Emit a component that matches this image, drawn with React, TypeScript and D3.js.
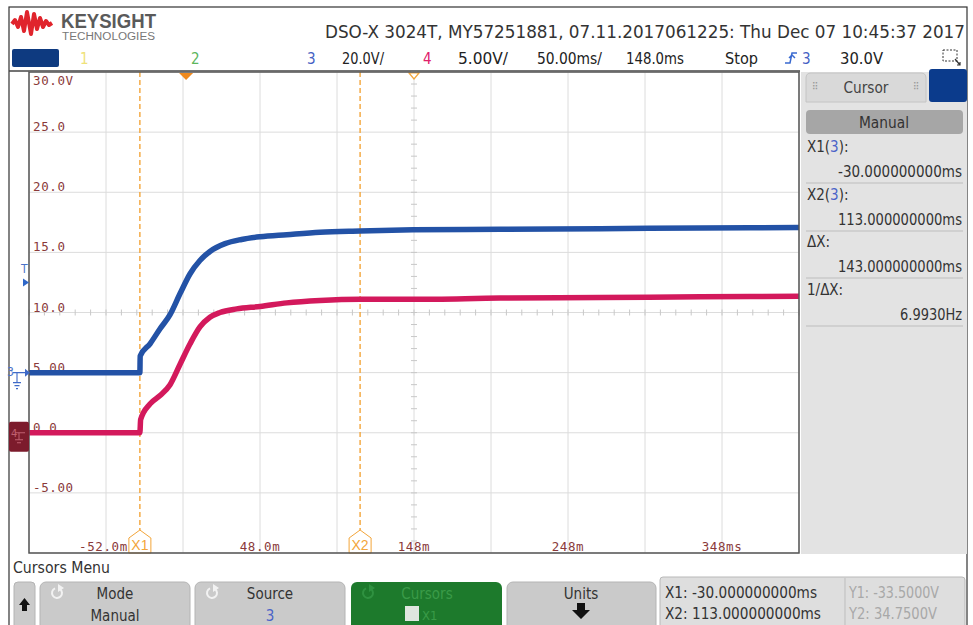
import React from 'react';
import * as d3 from 'd3';

const W = 973;
const H = 625;

// horizontal: 50.00 ms/div, delay 148.0 ms, 10 divisions
const timeDomain = [-102, 398];
// channel 4 (red) 5.00 V/div, channel 3 (blue) 20.0 V/div, 8 divisions
const ch4Domain = [-10, 30];
const ch3Domain = [-60, 100];

const yTickValues = [30, 25, 20, 15, 10, 5, 0, -5];
const yTickLabels = ['30.0V', '25.0', '20.0', '15.0', '10.0', '5.00', '0.0', '-5.00'];
const xTickValues = [-52, 48, 148, 248, 348];
const xTickLabels = ['-52.0m', '48.0m', '148m', '248m', '348ms'];

// channel 3 trace (ms, V)
const ch3Time = [-102, -30, -29.8, -23.4, -16.9, -10.4, -3.9, 2.6, 9.0, 15.5, 25.3, 36, 48, 65.4, 87.0, 113, 147.4, 204, 269, 334, 398];
const ch3Volts = [0, 0, 5.5, 9.6, 14.6, 19.3, 26.3, 32.9, 37.3, 40.3, 42.9, 44.3, 45.2, 45.9, 46.7, 47.1, 47.5, 47.7, 47.9, 48.1, 48.3];

// channel 4 trace (ms, V)
const ch4Time = [-102, -30, -29.5, -23.4, -16.9, -10.4, -3.9, 2.6, 9.0, 15.5, 22.0, 32.9, 48.0, 65.4, 87.0, 113, 147.4, 204, 269, 334, 398];
const ch4Volts = [0, 0, 1.1, 2.4, 3.1, 4.0, 5.7, 7.4, 8.8, 9.6, 10.0, 10.3, 10.5, 10.8, 11.0, 11.1, 11.1, 11.2, 11.25, 11.3, 11.35];

const cursorTimes = [-30, 113];
const cursorNames = ['X1', 'X2'];
const triggerTime = 0;
const delayTime = 148;
const triggerLevel = 30; // on channel 3
const ch3Ground = 0;
const ch4Ground = 0;

const panelRows = [
  { label: 'X1(', src: '3', value: '-30.000000000ms' },
  { label: 'X2(', src: '3', value: '113.000000000ms' },
  { label: 'ΔX:', src: '', value: '143.000000000ms' },
  { label: '1/ΔX:', src: '', value: '6.9930Hz' },
];

const BLUE = '#2352a6';
const RED = '#d3195c';
const ORANGE = '#f3a53a';
const LABEL = '#8a3a3a';
const UI = "'Liberation Sans Narrow', 'Arial Narrow', 'DejaVu Sans Condensed', 'Liberation Sans', sans-serif";
const MONO = "'DejaVu Sans Mono', 'Liberation Mono', monospace";

const plot = { left: 29, right: 799, top: 72, bottom: 553 };

function Txt(props: any) {
  const { len, children, ...rest } = props;
  return (
    <text fontFamily={UI} {...rest} textLength={len} lengthAdjust={len ? 'spacingAndGlyphs' : undefined}>
      {children}
    </text>
  );
}

function Refresh({ x, y, color }: { x: number; y: number; color: string }) {
  const arc = d3.arc()({ innerRadius: 4, outerRadius: 6, startAngle: 0.6, endAngle: 2 * Math.PI - 0.4 }) as string;
  return (
    <g transform={`translate(${x},${y})`}>
      <path d={arc} fill={color} />
      <path d="M1,-9 L7,-5 L1,-1 Z" fill={color} />
    </g>
  );
}

function Button({ x, w, fill }: any) {
  return <rect x={x} y={582} width={w} height={50} rx={6} fill={fill} stroke="#b4b4b4" />;
}

export default function App() {
  const x = d3.scaleLinear().domain(timeDomain).range([plot.left, plot.right]);
  const y4 = d3.scaleLinear().domain(ch4Domain).range([plot.bottom, plot.top]);
  const y3 = d3.scaleLinear().domain(ch3Domain).range([plot.bottom, plot.top]);

  const line3 = d3.line<number>().x((_, i) => x(ch3Time[i])).y((v) => y3(v)).curve(d3.curveMonotoneX);
  const line4 = d3.line<number>().x((_, i) => x(ch4Time[i])).y((v) => y4(v)).curve(d3.curveMonotoneX);

  const vGrid = d3.range(timeDomain[0], timeDomain[1] + 1, 50);
  const hGrid = d3.range(ch4Domain[0], ch4Domain[1] + 1, 5);
  const midT = (timeDomain[0] + timeDomain[1]) / 2;
  const midV = (ch4Domain[0] + ch4Domain[1]) / 2;
  const minorT = d3.range(timeDomain[0], timeDomain[1] + 0.1, 10);
  const minorV = d3.range(ch4Domain[0], ch4Domain[1] + 0.1, 1);

  const g3 = y3(ch3Ground);
  const g4 = y4(ch4Ground);
  const trig = y3(triggerLevel);

  return (
    <svg width={W} height={H} style={{ position: 'absolute', left: 0, top: 0, background: '#fff' }}>
      {/* outer frame */}
      <rect x={9} y={7} width={958} height={630} fill="#fff" stroke="#333" strokeWidth={1.2} />

      {/* logo */}
      <path
        d="M12,24 L15,20 L18,27 L21,17 L24,31 L27,12 L31,34 L34,14 L37,29 L40,18 L43,27 L46,21 L49,25 L52,23"
        fill="none" stroke="#e0242c" strokeWidth={4} strokeLinejoin="round"
      />
      <Txt x={61} y={28} fontSize={20} fontWeight="bold" fill="#5a5a5a" len={95} fontFamily="'Liberation Sans', sans-serif">KEYSIGHT</Txt>
      <Txt x={62} y={40} fontSize={10} fill="#777" len={93} fontFamily="'Liberation Sans', sans-serif">TECHNOLOGIES</Txt>
      <Txt x={325} y={38} fontSize={17} fill="#333" len={640}>DSO-X 3024T, MY57251881, 07.11.2017061225: Thu Dec 07 10:45:37 2017</Txt>

      {/* status row */}
      <rect x={12} y={49} width={47} height={18} rx={2} fill="#0e3a80" />
      <Txt x={80} y={64} fontSize={15} fill="#efe27a">1</Txt>
      <Txt x={191} y={64} fontSize={15} fill="#5db65d">2</Txt>
      <Txt x={307} y={64} fontSize={15} fill="#4461c4">3</Txt>
      <Txt x={342} y={64} fontSize={15} fill="#222" len={42}>20.0V/</Txt>
      <Txt x={423} y={64} fontSize={15} fill="#e0206a">4</Txt>
      <Txt x={458} y={64} fontSize={15} fill="#222" len={50}>5.00V/</Txt>
      <Txt x={537} y={64} fontSize={15} fill="#222" len={65}>50.00ms/</Txt>
      <Txt x={626} y={64} fontSize={15} fill="#222" len={58}>148.0ms</Txt>
      <Txt x={725} y={64} fontSize={15} fill="#222" len={33}>Stop</Txt>
      <path d="M785,63 L790,63 L792,53 L797,53 M789,58 L792,55 L795,58" fill="none" stroke="#3a6ad0" strokeWidth={1.5} />
      <Txt x={802} y={64} fontSize={15} fill="#4461c4">3</Txt>
      <Txt x={840} y={64} fontSize={15} fill="#222" len={43}>30.0V</Txt>
      <rect x={943} y={50} width={14} height={11} fill="none" stroke="#333" strokeDasharray="2,1.5" />
      <path d="M955,59 L960,65 M957,65 L960,65 L960,62" fill="none" stroke="#333" strokeWidth={1.2} />

      {/* plot area */}
      <line x1={9} x2={800} y1={71} y2={71} stroke="#444" strokeWidth={1.5} />
      <g>
        {vGrid.map((t) => (
          <line key={'v' + t} x1={x(t)} x2={x(t)} y1={plot.top} y2={plot.bottom} stroke="#dcdcdc" />
        ))}
        {hGrid.map((v) => (
          <line key={'h' + v} x1={plot.left} x2={plot.right} y1={y4(v)} y2={y4(v)} stroke="#dcdcdc" />
        ))}
        {minorT.map((t) => (
          <line key={'mt' + t} x1={x(t)} x2={x(t)} y1={y4(midV) - 3} y2={y4(midV) + 3} stroke="#c8c8c8" />
        ))}
        {minorV.map((v) => (
          <line key={'mv' + v} x1={x(midT) - 3} x2={x(midT) + 3} y1={y4(v)} y2={y4(v)} stroke="#c8c8c8" />
        ))}
      </g>

      {/* axis labels */}
      {yTickValues.map((v, i) => (
        <text key={'yl' + v} x={33} y={i === 0 ? y4(v) + 13 : y4(v) - 1} fontFamily={MONO} fontSize={12.5}
          letterSpacing={0.6} fill={LABEL}>
          {yTickLabels[i]}
        </text>
      ))}
      {xTickValues.map((t, i) => (
        <text key={'xl' + t} x={i === 0 ? x(cursorTimes[0]) - 12 : x(t)} y={plot.bottom - 2}
          textAnchor={i === 0 ? 'end' : 'middle'} fontFamily={MONO} fontSize={12.5}
          letterSpacing={0.6} fill={LABEL}>
          {xTickLabels[i]}
        </text>
      ))}

      {/* cursors */}
      {cursorTimes.map((t, i) => {
        const cx = x(t);
        return (
          <g key={'c' + i}>
            <line x1={cx} x2={cx} y1={plot.top} y2={plot.bottom - 22} stroke={ORANGE} strokeWidth={1.4} strokeDasharray="5,3" />
            <path d={`M${cx},${plot.bottom - 23} L${cx + 11},${plot.bottom - 15} L${cx + 11},${plot.bottom} L${cx - 11},${plot.bottom} L${cx - 11},${plot.bottom - 15} Z`}
              fill="#fff" stroke={ORANGE} strokeWidth={1} />
            <Txt x={cx} y={plot.bottom - 3} fontSize={14} fill={ORANGE} textAnchor="middle" fontFamily="'Liberation Sans', sans-serif">{cursorNames[i]}</Txt>
          </g>
        );
      })}

      {/* traces */}
      <path d={line3(ch3Volts) as string} fill="none" stroke={BLUE} strokeWidth={5.5} strokeLinejoin="round" />
      <path d={line4(ch4Volts) as string} fill="none" stroke={RED} strokeWidth={5.5} strokeLinejoin="round" />

      {/* trigger position and delay markers */}
      <path d={`M${x(triggerTime) - 7},${plot.top + 1} L${x(triggerTime) + 7},${plot.top + 1} L${x(triggerTime)},${plot.top + 8} Z`} fill="#f08a1e" />
      <path d={`M${x(delayTime) - 5},${plot.top + 1} L${x(delayTime) + 5},${plot.top + 1} L${x(delayTime)},${plot.top + 7} Z`} fill="#fff" stroke={ORANGE} strokeWidth={1.2} />

      <rect x={plot.left} y={plot.top} width={plot.right - plot.left} height={plot.bottom - plot.top} fill="none" stroke="#555" strokeWidth={1.5} />

      {/* left markers */}
      <Txt x={21} y={273} fontSize={12} fill="#4a73c8">T</Txt>
      <path d={`M23,${trig - 4} L29,${trig} L23,${trig + 4} Z`} fill="#2f67c8" />
      <Txt x={7} y={g3 + 3} fontSize={12} fill="#4a73c8">3</Txt>
      <path d={`M13,${g3} L26,${g3} M17,${g3} L17,${g3 + 10} M13,${g3 + 10} L21,${g3 + 10} M14.5,${g3 + 13} L19.5,${g3 + 13} M16,${g3 + 16} L18,${g3 + 16}`} fill="none" stroke="#3f6ac8" strokeWidth={1.1} />
      <path d={`M25,${g3 - 4} L30,${g3} L25,${g3 + 4} Z`} fill="#3f6ac8" />
      <rect x={9} y={g4 - 11} width={20} height={30} rx={2} fill="#7c1b2c" />
      <Txt x={11} y={g4 + 4} fontSize={11} fill="#c06070">4</Txt>
      <path d={`M15,${g4} L25,${g4} M19,${g4} L19,${g4 + 7} M15,${g4 + 7} L23,${g4 + 7} M17,${g4 + 10} L21,${g4 + 10}`} fill="none" stroke="#c06070" strokeWidth={1} />

      {/* right panel */}
      <rect x={801} y={72} width={166} height={482} fill="#e3e3e3" />
      <path d="M806,102 L806,78 Q806,73 811,73 L921,73 Q926,73 926,78 L926,102 Z" fill="#d9d9d9" stroke="#c4c4c4" />
      <Txt x={866} y={93} fontSize={15} fill="#444" textAnchor="middle" len={45}>Cursor</Txt>
      <text x={812} y={90} fontSize={10} fill="#999" fontFamily={UI}>⠿</text>
      <text x={913} y={90} fontSize={10} fill="#999" fontFamily={UI}>⠿</text>
      <rect x={929} y={69} width={38} height={33} rx={3} fill="#0b3b8c" />
      <rect x={806} y={110} width={157} height={24} rx={4} fill="#a6a6a6" />
      <Txt x={884} y={128} fontSize={15} fill="#333" textAnchor="middle" len={50}>Manual</Txt>
      {panelRows.map((r, i) => {
        const base = [152, 200, 247, 295][i];
        return (
          <g key={'pr' + i}>
            <Txt x={807} y={base} fontSize={15} fill="#333">
              {r.label}
              {r.src ? <tspan fill="#4a63c8">{r.src}</tspan> : null}
              {r.src ? '):' : null}
            </Txt>
            <Txt x={962} y={base + 25} fontSize={15} fill="#333" textAnchor="end" len={r.value.length > 10 ? 124 : 62}>{r.value}</Txt>
            <line x1={806} x2={963} y1={base + 31} y2={base + 31} stroke="#bdbdbd" />
          </g>
        );
      })}

      {/* bottom menu */}
      <Txt x={13} y={573} fontSize={15} fill="#333" len={97}>Cursors Menu</Txt>
      <rect x={14} y={582} width={21} height={50} rx={4} fill="#cbcbcb" stroke="#b4b4b4" />
      <path d="M24.5,598 L30,605 L27,605 L27,611 L22,611 L22,605 L19,605 Z" fill="#111" />

      <Button x={40} w={150} fill="#cacaca" />
      <Refresh x={57} y={593} color="#f2f2f2" />
      <Txt x={115} y={599} fontSize={15} fill="#333" textAnchor="middle">Mode</Txt>
      <Txt x={115} y={621} fontSize={15} fill="#333" textAnchor="middle">Manual</Txt>

      <Button x={195} w={150} fill="#cacaca" />
      <Refresh x={212} y={593} color="#f2f2f2" />
      <Txt x={270} y={599} fontSize={15} fill="#333" textAnchor="middle">Source</Txt>
      <Txt x={270} y={621} fontSize={15} fill="#4a63c8" textAnchor="middle">3</Txt>

      <rect x={351} y={582} width={151} height={50} rx={6} fill="#1d7a2c" />
      <Refresh x={368} y={593} color="#2f9140" />
      <Txt x={427} y={599} fontSize={15} fill="#3a9a48" textAnchor="middle">Cursors</Txt>
      <rect x={405} y={606} width={14} height={15} fill="#dfe6df" />
      <Txt x={422} y={620} fontSize={13} fill="#3a9a48">X1</Txt>

      <Button x={507} w={149} fill="#cacaca" />
      <Txt x={581} y={599} fontSize={15} fill="#333" textAnchor="middle">Units</Txt>
      <path d="M577,603 L585,603 L585,610 L590,610 L581,619 L572,610 L577,610 Z" fill="#111" />

      <rect x={660} y={577} width={305} height={55} rx={3} fill="#dedede" stroke="#b8b8b8" />
      <line x1={845} x2={845} y1={578} y2={625} stroke="#bdbdbd" />
      <Txt x={665} y={598} fontSize={15} fill="#333" len={152}>X1: -30.000000000ms</Txt>
      <Txt x={665} y={619} fontSize={15} fill="#333" len={156}>X2: 113.000000000ms</Txt>
      <Txt x={849} y={598} fontSize={15} fill="#a8a8a8" len={90}>Y1: -33.5000V</Txt>
      <Txt x={849} y={619} fontSize={15} fill="#a8a8a8" len={88}>Y2: 34.7500V</Txt>
    </svg>
  );
}
